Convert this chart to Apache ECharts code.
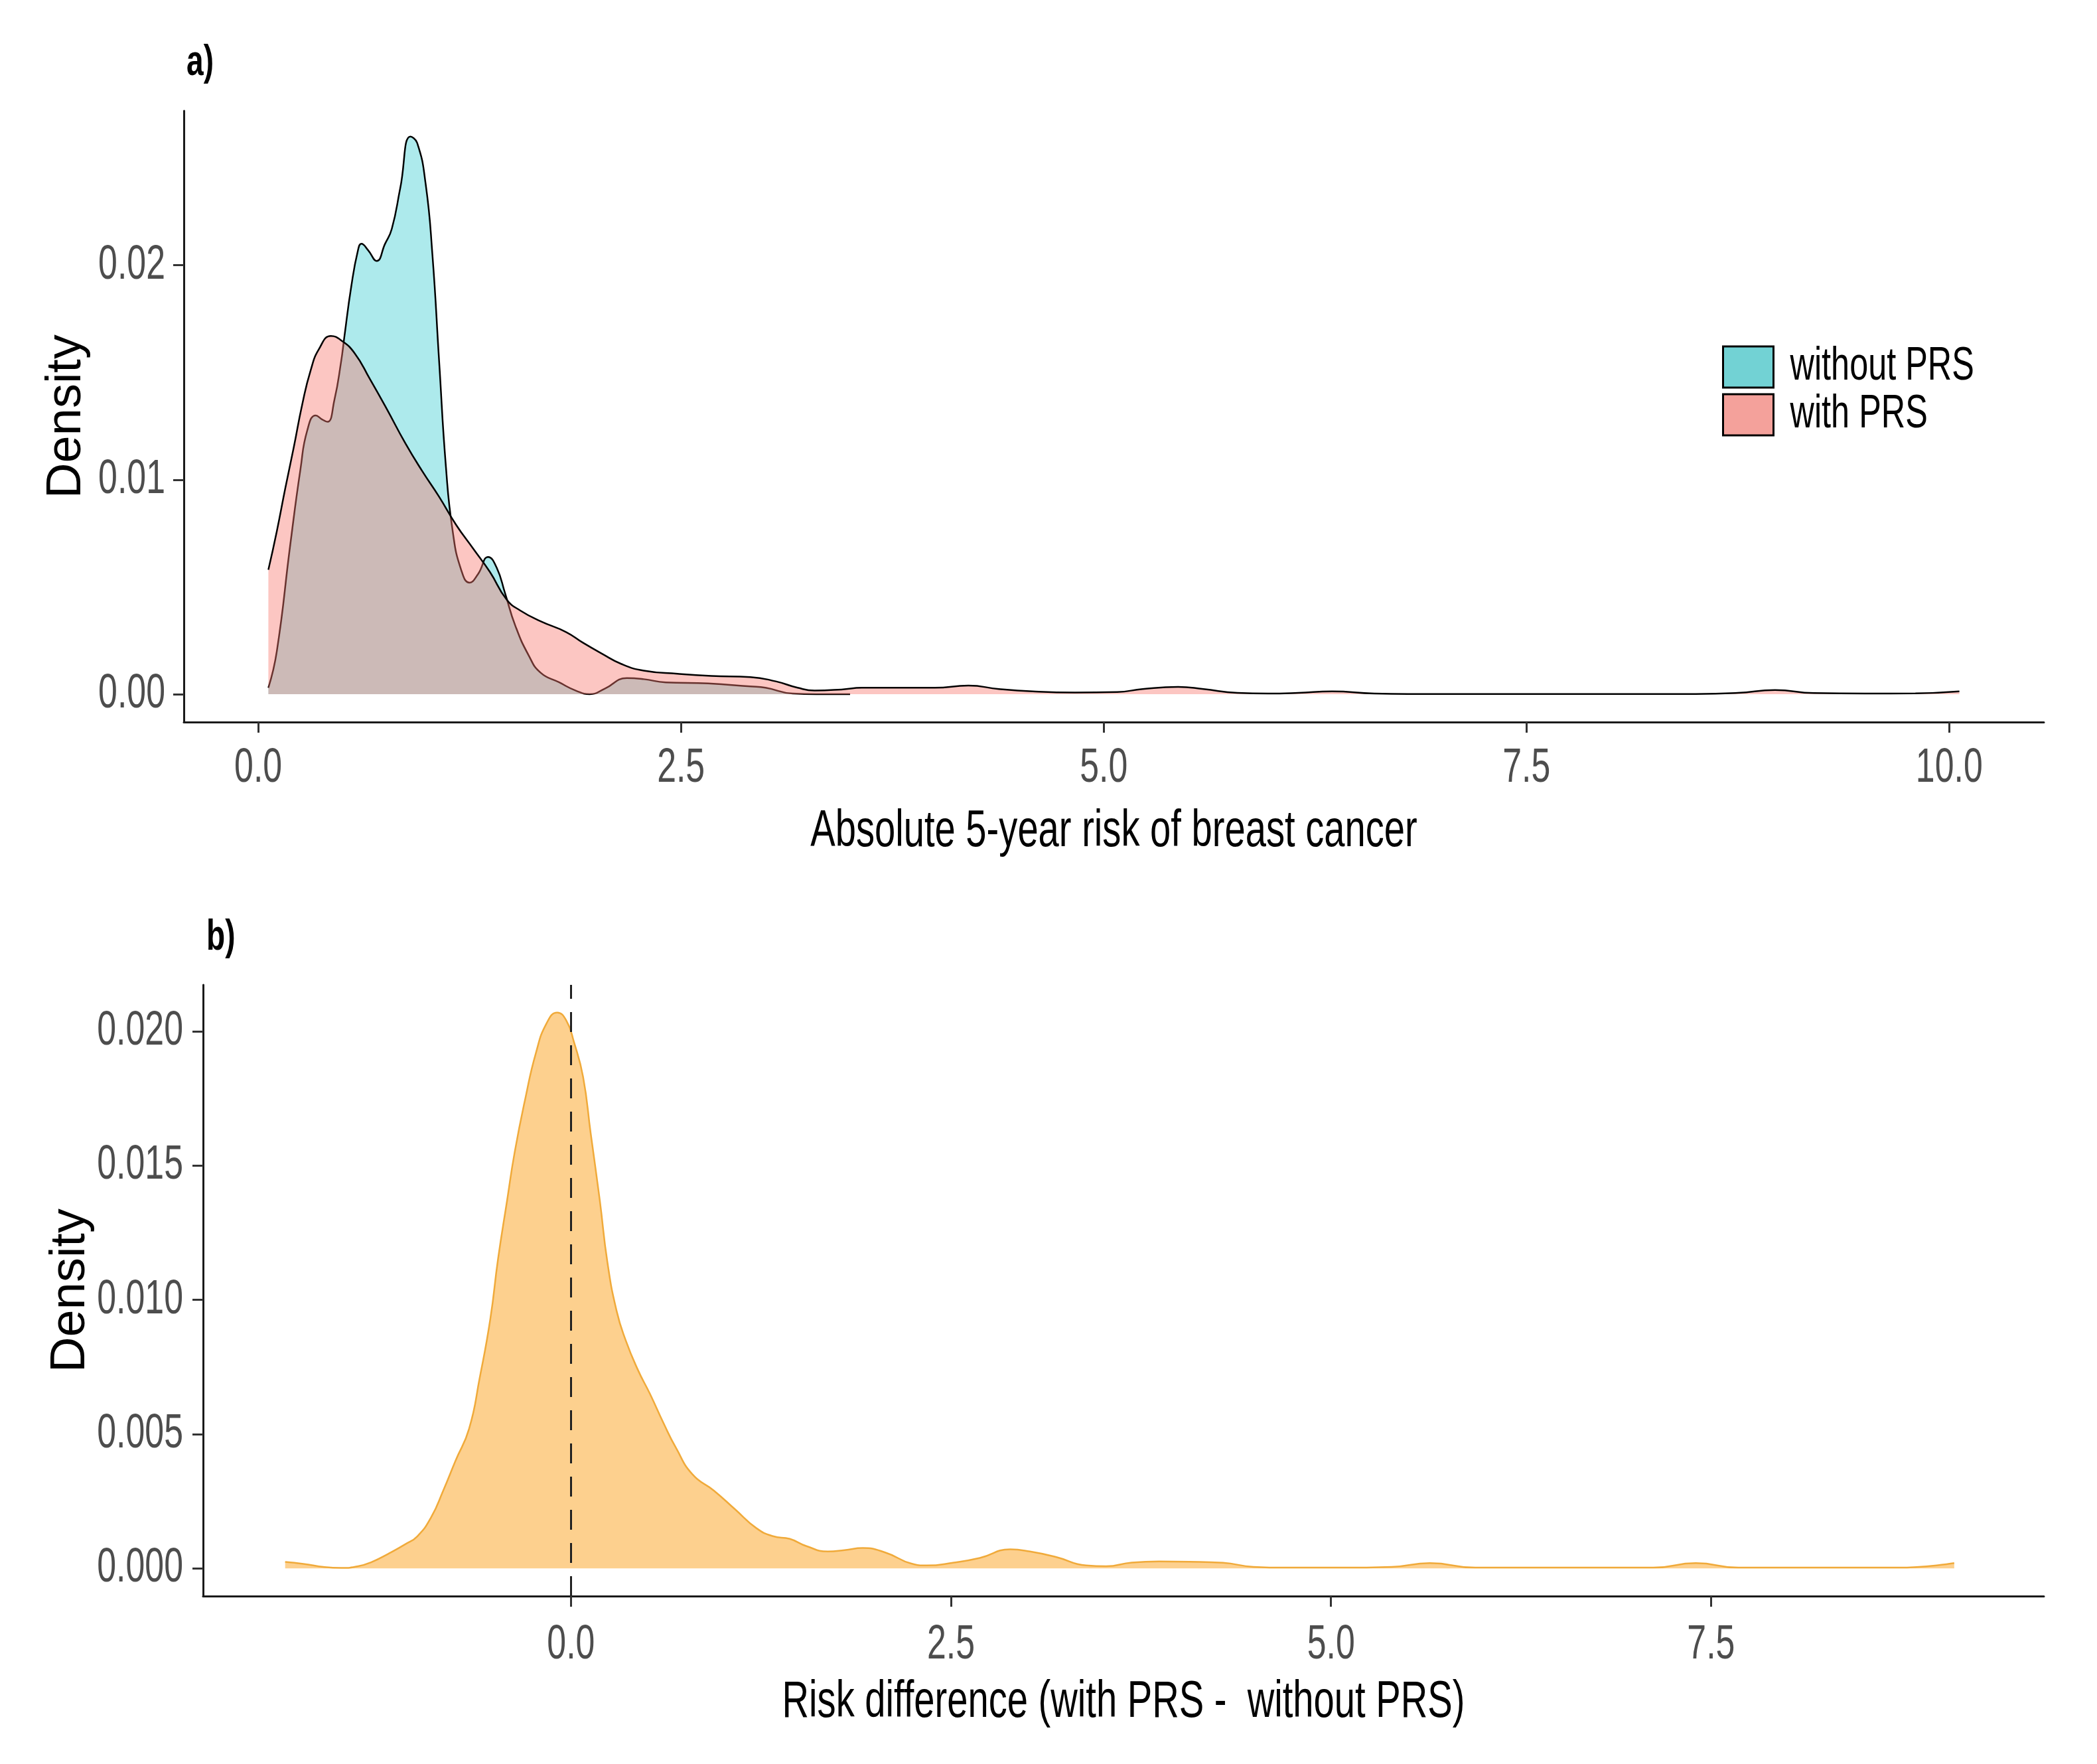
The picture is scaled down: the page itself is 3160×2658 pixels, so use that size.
<!DOCTYPE html>
<html lang="en">
<head>
    <meta charset="UTF-8">
    <title>Breast cancer risk densities</title>
    <script src="https://cdn.jsdelivr.net/npm/echarts@6/dist/echarts.min.js"></script>
    <style>
        html, body { margin: 0; padding: 0; background: #fff; }
    </style>
</head>
<body>
    <div id="main" style="width: 3160px;height:2658px;"></div>
    <script>
        // panel a) density of absolute 5-year risk
        var withPrsX = [0.06, 0.11, 0.16, 0.21, 0.26, 0.31, 0.36, 0.43, 0.49, 0.57, 0.66, 0.76, 0.87, 0.97, 1.07, 1.17, 1.27, 1.37, 1.47, 1.55,
            1.67, 1.82, 1.92, 2.03, 2.15, 2.28, 2.48, 2.68, 2.91, 3.06, 3.19, 3.29, 3.45, 3.57, 3.82, 4.0, 4.2, 4.38, 4.58, 4.83,
            5.08, 5.23, 5.44, 5.59, 5.79, 5.97, 6.15, 6.35, 6.6, 6.8, 7.5, 8.0, 8.5, 8.75, 8.97, 9.2, 9.5, 9.8, 10.06];
        var withPrsY = [0.0058, 0.0076, 0.0096, 0.0115, 0.0135, 0.0151, 0.0161, 0.0167, 0.0165, 0.0159, 0.0147, 0.0133, 0.0117, 0.0104, 0.0092, 0.0079, 0.0068, 0.0057, 0.0044, 0.0039,
            0.0034, 0.0029, 0.0024, 0.0019, 0.0014, 0.0011, 0.00095, 0.00085, 0.0008, 0.0006, 0.0003, 0.00017, 0.00022, 0.0003, 0.0003, 0.0003, 0.0004, 0.00024, 0.00013, 0.00008,
            0.0001, 0.00024, 0.00034, 0.00024, 0.00006, 0.00003, 0.00006, 0.00013, 0.00003, 0.00001, 0.00001, 0.00001, 0.00001, 0.00006, 0.00019, 0.00005, 0.00003, 0.00004, 0.00013];

        var withoutPrsX = [0.06, 0.11, 0.19, 0.25, 0.29, 0.34, 0.38, 0.41, 0.45, 0.49, 0.51, 0.55, 0.59, 0.61, 0.65, 0.70, 0.75, 0.79, 0.84, 0.90,
            0.94, 0.99, 1.03, 1.07, 1.11, 1.15, 1.20, 1.25, 1.30, 1.36, 1.41, 1.46, 1.52, 1.60, 1.67, 1.78, 1.88, 1.96, 2.05, 2.18,
            2.28, 2.41, 2.66, 2.91, 3.0, 3.16, 3.3, 3.5];
        var withoutPrsY = [0.0003, 0.002, 0.007, 0.0105, 0.0123, 0.013, 0.0128, 0.0127, 0.0137, 0.0155, 0.0167, 0.019, 0.0207, 0.021, 0.0207, 0.0202, 0.021, 0.0217, 0.0236, 0.026,
            0.0257, 0.0238, 0.0205, 0.0155, 0.0106, 0.0076, 0.0058, 0.0052, 0.0056, 0.0064, 0.0059, 0.0047, 0.0032, 0.0018, 0.001, 0.00055, 0.00016, 0, 0.00026, 0.00075,
            0.0007, 0.00055, 0.0005, 0.00036, 0.0003, 0.00003, 0, 0];

        // panel b) density of risk difference
        var diffX = [-1.88, -1.76, -1.62, -1.51, -1.40, -1.31, -1.20, -1.09, -1.01, -0.92, -0.84, -0.76, -0.67, -0.60, -0.53, -0.48, -0.42, -0.37, -0.30, -0.23,
            -0.16, -0.09, -0.03, 0.02, 0.08, 0.13, 0.19, 0.24, 0.30, 0.36, 0.44, 0.52, 0.61, 0.69, 0.80, 0.94, 1.08, 1.22, 1.33, 1.44,
            1.55, 1.69, 1.80, 1.92, 2.07, 2.24, 2.34, 2.52, 2.69, 2.89, 3.02, 3.19, 3.39, 3.52, 3.69, 3.87, 4.07, 4.29, 4.49, 4.70,
            5.07, 5.40, 5.65, 5.95, 6.51, 7.12, 7.40, 7.68, 8.18, 8.73, 9.1];
        var diffY = [0.00024, 0.00017, 0.00005, 0.00002, 0.00008, 0.00024, 0.00055, 0.0009, 0.0012, 0.0019, 0.0029, 0.004, 0.0052, 0.0071, 0.0093, 0.0115, 0.0137, 0.0155, 0.0175, 0.0192,
            0.0203, 0.0207, 0.0204, 0.0196, 0.0183, 0.0162, 0.0137, 0.0114, 0.0096, 0.0085, 0.0074, 0.0065, 0.0054, 0.0045, 0.0035, 0.0029, 0.0022, 0.0015, 0.0012, 0.0011,
            0.00083, 0.00063, 0.00068, 0.00076, 0.00059, 0.00018, 0.00011, 0.00022, 0.00039, 0.00071, 0.00063, 0.00043, 0.00011, 0.00008, 0.00022, 0.00026, 0.00025, 0.00021, 0.00006, 0.00003,
            0.00003, 0.00006, 0.0002, 0.00003, 0.00003, 0.00003, 0.0002, 0.00003, 0.00003, 0.00003, 0.0002];

        // tick labels
        var topXTicks = [0, 2.5, 5, 7.5, 10];
        var topYTicks = [0, 0.01, 0.02];
        var bottomXTicks = [0, 2.5, 5, 7.5];
        var bottomYTicks = [0, 0.005, 0.01, 0.015, 0.02];

        var seriesNames = ['without PRS', 'with PRS'];

        // the lettering in the original figure is squeezed sideways;
        // squeeze horizontal canvas text around its anchor the same way (rotated text is left alone)
        var SQUEEZE = 0.72;
        var baseFillText = CanvasRenderingContext2D.prototype.fillText;
        CanvasRenderingContext2D.prototype.fillText = function (text, x, y, maxWidth) {
            var m = this.getTransform();
            if (Math.abs(m.b) > 1e-6 || Math.abs(m.c) > 1e-6) {
                return baseFillText.apply(this, arguments);
            }
            this.save();
            this.translate(x, y);
            this.scale(SQUEEZE, 1);
            if (arguments.length > 3) baseFillText.call(this, text, 0, 0, maxWidth);
            else baseFillText.call(this, text, 0, 0);
            this.restore();
        };

        function zip(xs, ys) {
            var out = [];
            for (var i = 0; i < Math.min(xs.length, ys.length); i++) out.push([xs[i], ys[i]]);
            return out;
        }

        var font = "'Liberation Sans', Arial, sans-serif";

        function valueAxis(grid, min, max, ticks, digits, name, isY, gap, labelMargin) {
            return {
                type: 'value',
                gridIndex: grid,
                min: min,
                max: max,
                name: name,
                nameLocation: 'middle',
                nameGap: gap,
                nameRotate: isY ? 90 : 0,
                nameMoveOverlap: false,
                nameTextStyle: { fontFamily: font, fontSize: isY ? 74 : 78, color: '#000' },
                axisLine: { show: true, onZero: false, lineStyle: { color: '#1a1a1a', width: 3 } },
                axisTick: { show: true, length: 16, customValues: ticks, lineStyle: { color: '#333', width: 3 } },
                axisLabel: {
                    customValues: ticks,
                    margin: labelMargin,
                    fontFamily: font,
                    fontSize: 72,
                    color: '#4d4d4d',
                    formatter: function (v) { return v.toFixed(digits); }
                },
                splitLine: { show: false }
            };
        }

        var myChart = echarts.init(document.getElementById('main'), null, { renderer: 'canvas', devicePixelRatio: 1 });

        var option = {
            backgroundColor: '#fff',
            animation: false,
            title: [
                { text: 'a)', left: 276, top: 58, textStyle: { fontFamily: font, fontWeight: 'bold', fontSize: 64, color: '#000' } },
                { text: 'b)', left: 306, top: 1376, textStyle: { fontFamily: font, fontWeight: 'bold', fontSize: 64, color: '#000' } }
            ],
            legend: {
                orient: 'vertical',
                left: 2590,
                top: 513,
                icon: 'rect',
                itemWidth: 76,
                itemHeight: 62,
                itemGap: 2,
                textStyle: { fontFamily: font, fontSize: 70, color: '#000', padding: [0, 0, 0, 20] },
                data: [
                    { name: seriesNames[0], itemStyle: { color: '#72d2d4', borderColor: '#000', borderWidth: 3 } },
                    { name: seriesNames[1], itemStyle: { color: '#f4a19b', borderColor: '#000', borderWidth: 3 } }
                ]
            },
            grid: [
                { left: 277, right: 80, top: 167, height: 921 },
                { left: 306, right: 80, top: 1484, height: 921 }
            ],
            xAxis: [
                valueAxis(0, -0.44, 10.56, topXTicks, 1, 'Absolute 5-year risk of breast cancer', false, 126, 34),
                valueAxis(1, -2.42, 9.69, bottomXTicks, 1, 'Risk difference (with PRS -  without PRS)', false, 121, 38)
            ],
            yAxis: [
                valueAxis(0, -0.0013, 0.0272, topYTicks, 2, 'Density', true, 139, 28),
                valueAxis(1, -0.00103, 0.02173, bottomYTicks, 3, 'Density', true, 162, 30)
            ],
            series: [
                {
                    name: seriesNames[0],
                    type: 'line',
                    z: 2,
                    xAxisIndex: 0,
                    yAxisIndex: 0,
                    data: zip(withoutPrsX, withoutPrsY),
                    showSymbol: false,
                    smooth: 0.5,
                    lineStyle: { color: '#000', width: 2.5 },
                    itemStyle: { color: '#72d2d4' },
                    areaStyle: { color: 'rgba(0,191,196,0.32)', opacity: 1, origin: 0 }
                },
                {
                    name: seriesNames[1],
                    type: 'line',
                    z: 3,
                    xAxisIndex: 0,
                    yAxisIndex: 0,
                    data: zip(withPrsX, withPrsY),
                    showSymbol: false,
                    smooth: 0.5,
                    lineStyle: { color: '#000', width: 2.5 },
                    itemStyle: { color: '#f4a19b' },
                    areaStyle: { color: 'rgba(248,118,109,0.42)', opacity: 1, origin: 0 }
                },
                {
                    name: 'difference',
                    type: 'line',
                    xAxisIndex: 1,
                    yAxisIndex: 1,
                    data: zip(diffX, diffY),
                    showSymbol: false,
                    smooth: 0.5,
                    lineStyle: { color: '#f0aa3a', width: 2.5 },
                    areaStyle: { color: '#fdd08e', opacity: 1, origin: 0 },
                    markLine: {
                        silent: true,
                        symbol: 'none',
                        label: { show: false },
                        lineStyle: { color: '#222', width: 3, type: [30, 20] },
                        data: [{ xAxis: 0 }]
                    }
                }
            ]
        };
        myChart.setOption(option);
    </script>
</body>
</html>
